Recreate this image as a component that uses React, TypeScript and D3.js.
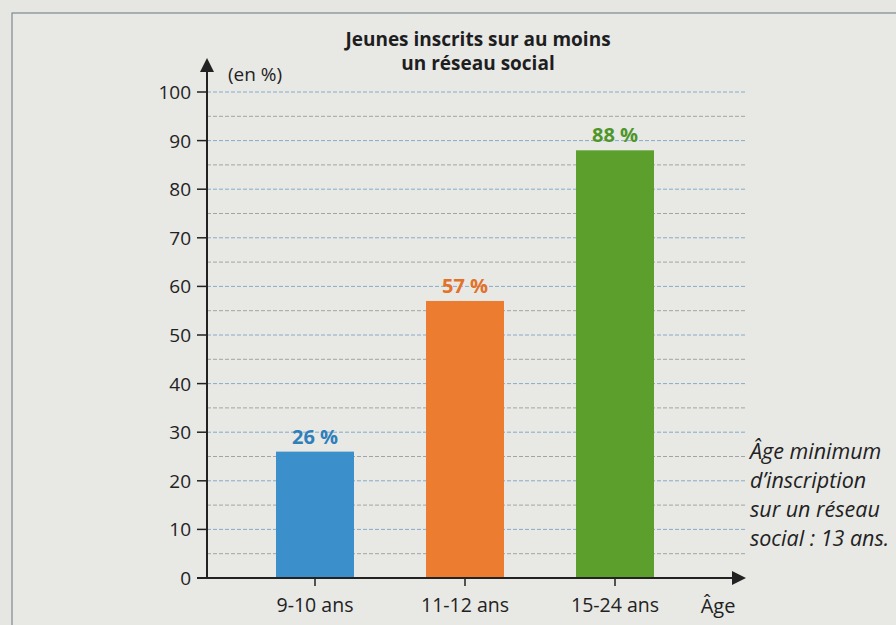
import React from "react";
import * as d3 from "d3";

const categories = ["9-10 ans", "11-12 ans", "15-24 ans"];
const values = [26, 57, 88];
const barColors = ["#3b8fca", "#ec7d30", "#5c9f2c"];
const labelColors = ["#2e7fba", "#e2722a", "#4e962a"];
const yTicks = [0, 10, 20, 30, 40, 50, 60, 70, 80, 90, 100];
const gridValues = d3.range(5, 101, 5);
const titleLines = ["Jeunes inscrits sur au moins", "un réseau social"];
const noteLines = ["Âge minimum", "d’inscription", "sur un réseau", "social : 13 ans."];

const W = 896;
const H = 625;
const x0 = 207;
const y0 = 578;

export default function App() {
  const y = d3.scaleLinear().domain([0, 100]).range([578, 92]);
  const x = d3
    .scaleBand<string>()
    .domain(categories)
    .range([240, 690])
    .paddingInner(0.48)
    .paddingOuter(0.24);
  const font = "'Open Sans', 'Noto Sans', sans-serif";

  return (
    <svg
      width={W}
      height={H}
      style={{ position: "absolute", left: 0, top: 0, background: "#e9e9e6" }}
      fontFamily={font}
    >
      <rect x={0} y={0} width={W} height={H} fill="#e6e6e3" />
      <rect x={12} y={13} width={W} height={H} fill="#e8e8e5" stroke="#7f8a92" strokeWidth={1.2} />
      {gridValues.map((v) => (
        <line
          key={v}
          x1={x0}
          x2={745}
          y1={y(v)}
          y2={y(v)}
          stroke={v % 10 === 0 ? "#86acc8" : "#a3a3a3"}
          strokeWidth={1}
          strokeDasharray="4 2"
        />
      ))}
      {categories.map((c, i) => (
        <rect
          key={c}
          x={x(c)}
          y={y(values[i])}
          width={x.bandwidth()}
          height={y(0) - y(values[i])}
          fill={barColors[i]}
        />
      ))}
      {categories.map((c, i) => (
        <text
          key={c}
          x={(x(c) as number) + x.bandwidth() / 2}
          y={y(values[i]) - 8}
          textAnchor="middle"
          fontSize={20}
          fontWeight={700}
          fill={labelColors[i]}
        >
          {values[i]} %
        </text>
      ))}
      <line x1={x0} x2={x0} y1={y0} y2={68} stroke="#222" strokeWidth={2} />
      <path d={`M${x0 - 7},${72} L${x0},${58} L${x0 + 7},${72} Z`} fill="#222" />
      {yTicks.map((t) => (
        <g key={t}>
          <line x1={x0 - 10} x2={x0} y1={y(t)} y2={y(t)} stroke="#222" strokeWidth={1.5} />
          <text x={x0 - 16} y={y(t) + 7} textAnchor="end" fontSize={19} fill="#222">
            {t}
          </text>
        </g>
      ))}
      <text x={228} y={81} fontSize={19} fill="#222">
        (en %)
      </text>
      <line x1={x0 - 10} x2={735} y1={y0} y2={y0} stroke="#222" strokeWidth={2} />
      <path d={`M${732},${571} L${746},${y0} L${732},${585} Z`} fill="#222" />
      {categories.map((c) => (
        <g key={c}>
          <line
            x1={(x(c) as number) + x.bandwidth() / 2}
            x2={(x(c) as number) + x.bandwidth() / 2}
            y1={y0}
            y2={y0 + 8}
            stroke="#222"
            strokeWidth={1.5}
          />
          <text
            x={(x(c) as number) + x.bandwidth() / 2}
            y={612}
            textAnchor="middle"
            fontSize={19.5}
            fill="#222"
          >
            {c}
          </text>
        </g>
      ))}
      <text x={718} y={613} textAnchor="middle" fontSize={20} fill="#222">
        Âge
      </text>
      {titleLines.map((l, i) => (
        <text
          key={l}
          x={478}
          y={46 + i * 24}
          textAnchor="middle"
          fontSize={19}
          fontWeight={700}
          fill="#1e1e1e"
        >
          {l}
        </text>
      ))}
      {noteLines.map((l, i) => (
        <text key={l} x={750} y={459 + i * 29} fontSize={21.5} fontStyle="italic" fill="#222">
          {l}
        </text>
      ))}
    </svg>
  );
}
